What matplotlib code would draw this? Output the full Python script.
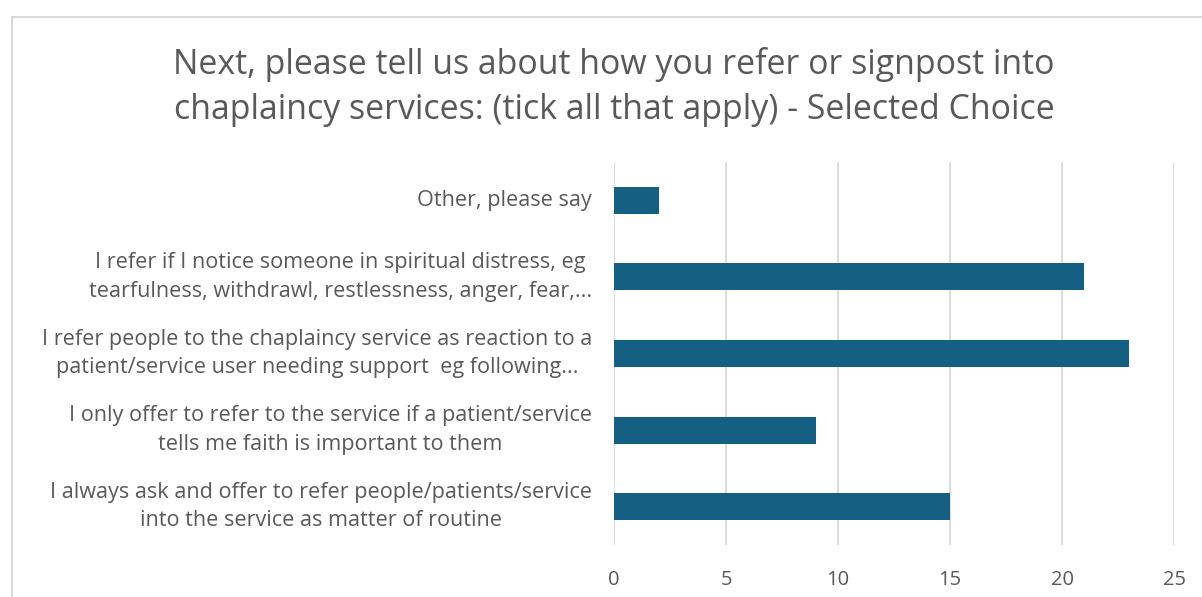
import matplotlib.pyplot as plt
from matplotlib.patches import Rectangle

# survey answers, bottom to top
labels = [
    "I always ask and offer to refer people/patients/service\ninto the service as matter of routine",
    "I only offer to refer to the service if a patient/service\ntells me faith is important to them",
    "I refer people to the chaplaincy service as reaction to a\npatient/service user needing support  eg following...",
    "I refer if I notice someone in spiritual distress, eg\ntearfulness, withdrawl, restlessness, anger, fear,...",
    "Other, please say",
]
counts = [15, 9, 23, 21, 2]
xticks = [0, 5, 10, 15, 20, 25]

title = ("Next, please tell us about how you refer or signpost into\n"
         "chaplaincy services: (tick all that apply) - Selected Choice")

plt.rcParams['font.family'] = ['Open Sans', 'DejaVu Sans']
grey = '#595959'

fig = plt.figure(figsize=(12.02, 5.97), dpi=100)
# chart frame
fig.patches.append(Rectangle((12 / 1202, -0.1), 1.2, (597 - 17) / 597 + 0.1,
                             transform=fig.transFigure, fill=False,
                             edgecolor='#d9d9d9', linewidth=1.5))

ax = fig.add_axes([614 / 1202, 52 / 597, 560 / 1202, 383 / 597])
ax.barh(range(len(counts)), counts, height=0.35, color='#156082', zorder=3)
ax.set_xlim(0, 25)
ax.set_ylim(-0.5, len(counts) - 0.5)
ax.set_xticks(xticks)
ax.set_yticks([])
ax.tick_params(axis='x', length=0, pad=18, labelsize=14.5, labelcolor=grey)
ax.grid(axis='x', color='#d9d9d9', linewidth=1.3, zorder=0)
for s in ax.spines.values():
    s.set_visible(False)

# category labels: right-aligned blocks, lines centred inside each block
for i, lab in enumerate(labels):
    ax.text(-0.039, i, lab, transform=ax.get_yaxis_transform(),
            ha='right', va='center', multialignment='center',
            fontsize=15.6, color=grey, linespacing=1.45)

fig.text(614 / 1202, 1 - 87 / 597, title, ha='center', va='center',
         fontsize=24.4, color=grey, linespacing=1.42)

fig.savefig('out.png', dpi=100)
